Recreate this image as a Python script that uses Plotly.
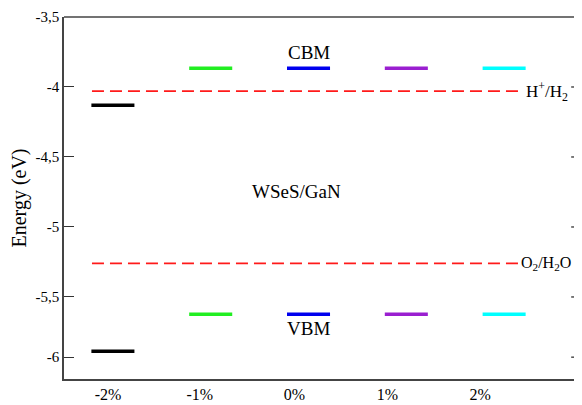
import plotly.graph_objects as go

strains = ["-2%", "-1%", "0%", "1%", "2%"]
cbm = [-4.13, -3.867, -3.867, -3.867, -3.867]
vbm = [-5.888, -5.624, -5.624, -5.624, -5.624]
colors = ["#000000", "#22ee22", "#0000ee", "#9a1fd0", "#00ffff"]
h_level = -4.03
o_level = -5.26
ytick_vals = [-3.5, -4.0, -4.5, -5.0, -5.5, -5.93]
ytick_text = ["-3,5", "-4", "-4,5", "-5", "-5,5", "-6"]

FONT = "Liberation Serif"
half = 0.22
fig = go.Figure()
for i, (c, v, col) in enumerate(zip(cbm, vbm, colors)):
    xc = i + 1
    for val in (c, v):
        fig.add_trace(go.Scatter(x=[xc - half, xc + half], y=[val, val], mode="lines",
                                 line=dict(color=col, width=3.5), showlegend=False,
                                 hoverinfo="skip"))
for lvl in (h_level, o_level):
    fig.add_trace(go.Scatter(x=[0.786, 5.2], y=[lvl, lvl], mode="lines",
                             line=dict(color="#ff1a1a", width=1.8, dash="12px,6px"),
                             showlegend=False, hoverinfo="skip"))

ann = [
    dict(x=3, y=cbm[2], text="CBM", yshift=3, yanchor="bottom", size=19),
    dict(x=3, y=vbm[2], text="VBM", yshift=-2, yanchor="top", size=19),
    dict(x=2.88, y=-4.75, text="WSeS/GaN", yanchor="middle", size=19),
    dict(x=5.2, y=h_level, text="H<sup>+</sup>/H<sub>2</sub>", xanchor="left", yanchor="middle", xshift=0, size=17),
    dict(x=5.2, y=o_level, text="O<sub>2</sub>/H<sub>2</sub>O", xanchor="left", yanchor="middle", xshift=-5, size=16),
]
for a in ann:
    a.setdefault("xanchor", "center")
    sz = a.pop("size")
    fig.add_annotation(**a, showarrow=False, font=dict(family=FONT, size=sz, color="black"))

shapes = [dict(type="line", xref="paper", yref="paper", x0=0, x1=1, y0=1, y1=1,
               line=dict(color="#444", width=1.5))]
for v in ytick_vals[1:]:
    shapes.append(dict(type="line", xref="paper", yref="y", x0=0.981, x1=1.0, y0=v, y1=v,
                       line=dict(color="#333", width=1.3)))
fig.update_layout(shapes=shapes)

# the page adds an 8px body margin, so the figure is sized to fit the window
fig.update_layout(
    width=574, height=397, paper_bgcolor="white", plot_bgcolor="white",
    margin=dict(l=56, r=1, t=9, b=26),
    font=dict(family=FONT, size=14, color="black"),
    xaxis=dict(range=[0.5, 5.786], showgrid=False, zeroline=False, showline=True,
               linecolor="#444", linewidth=1.5, ticks="",
               tickvals=[0.95, 1.888, 2.857, 3.806, 4.755], ticktext=strains,
               tickfont=dict(family=FONT, size=16)),
    yaxis=dict(range=[-6.086, -3.5], showgrid=False, zeroline=False, showline=True,
               linecolor="#444", linewidth=1.5, ticks="inside", ticklen=10, tickwidth=1.3,
               tickcolor="#333", tickvals=ytick_vals, ticktext=ytick_text,
               tickfont=dict(family=FONT, size=15),
               title=dict(text="Energy (eV)", font=dict(family=FONT, size=20), standoff=9)),
)
fig.write_html("out.html")
